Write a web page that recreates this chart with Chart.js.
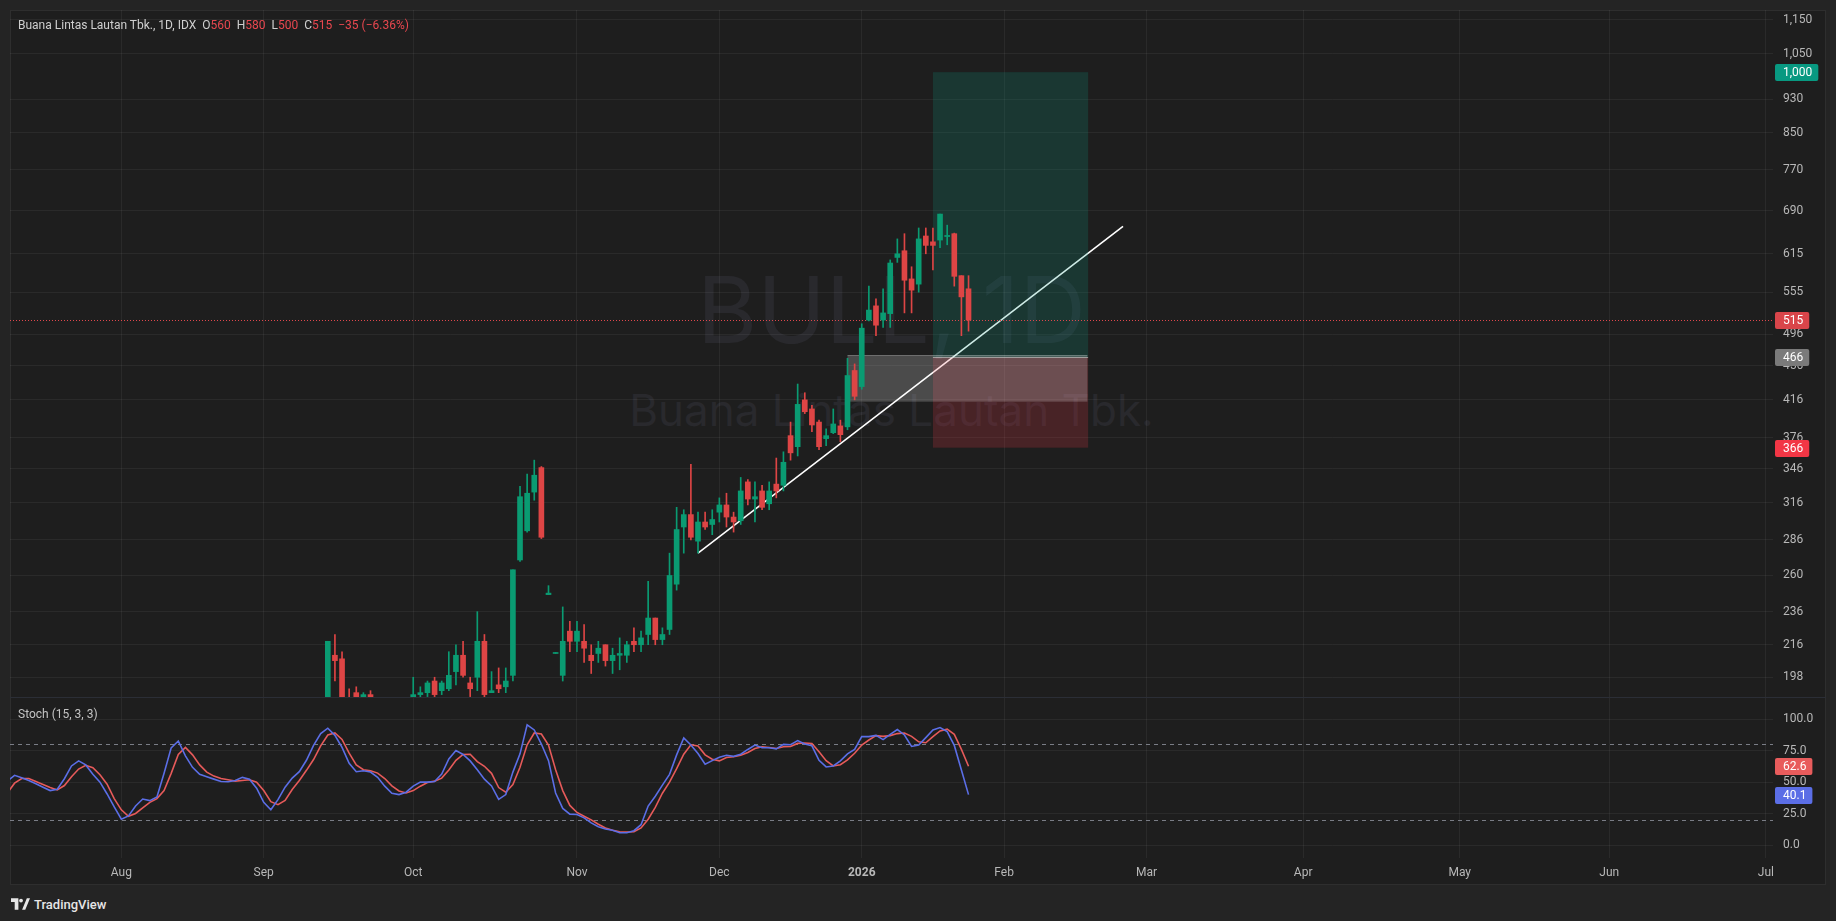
<!DOCTYPE html>
<html>
<head>
<meta charset="utf-8">
<script src="https://cdn.jsdelivr.net/npm/chart.js@4.4.1/dist/chart.umd.min.js"></script>
<style>
  html, body { margin: 0; padding: 0; width: 1836px; height: 921px; overflow: hidden; background: #242424; font-family: Roboto, sans-serif; }
  #frame { position: absolute; left: 10px; top: 10px; width: 1816px; height: 875px; background: #1e1e1e; box-sizing: border-box; border: 1px solid #2e2e2e; z-index: 0; }
  canvas { position: absolute; left: 0; z-index: 2; }
  #main { top: 0; }
  #stoch { top: 698px; }
  #sep { position: absolute; left: 10px; top: 697px; width: 1816px; height: 1px; background: #2b2e36; z-index: 3; }
  .wm { position: absolute; left: 10px; width: 1763px; text-align: center; white-space: nowrap; color: #29292d; font-family: Inter, sans-serif; z-index: 1; }
  #wm1 { top: 264px; font-size: 92px; line-height: 92px; }
  #wm2 { top: 388px; font-size: 44px; line-height: 44px; }
  #legend { position: absolute; left: 18px; top: 18px; font-size: 12px; line-height: 14px; color: #cfcfcf; white-space: nowrap; z-index: 3; }
  #legend .v { color: #e8474f; }
  #legend .g { margin-left: 6px; }
  #stochLabel { position: absolute; left: 18px; top: 707px; font-size: 12px; line-height: 14px; color: #c4c4c4; z-index: 3; }
  #brand { position: absolute; left: 11px; top: 897px; height: 14px; display: flex; align-items: center; gap: 4px; color: #e6e6e6; font-size: 13px; font-weight: 500; z-index: 3; }
</style>
</head>
<body>
<div id="frame"></div>
<div class="wm" id="wm1">BULL, 1D</div>
<div class="wm" id="wm2">Buana Lintas Lautan Tbk.</div>
<canvas id="main" width="1836" height="698"></canvas>
<canvas id="stoch" width="1836" height="187"></canvas>
<div id="sep"></div>
<div id="legend">Buana Lintas Lautan Tbk., 1D, IDX<span class="g">O</span><span class="v">560</span><span class="g">H</span><span class="v">580</span><span class="g">L</span><span class="v">500</span><span class="g">C</span><span class="v">515</span><span class="g v">−35 (−6.36%)</span></div>
<div id="stochLabel">Stoch (15, 3, 3)</div>
<div id="brand"><svg width="19" height="12" viewBox="0 0 36 22"><path d="M0 0h14v22H7V7H0z M21 22 L30 0 H36 L27 22z" fill="#e6e6e6"/><circle cx="19" cy="4.5" r="3.6" fill="#e6e6e6"/></svg>TradingView</div>
<script>
// bar index 16 = 1 Aug 2025, one step per trading day
const monthTicks = [16, 36, 57, 80, 100, 120, 140, 160, 182, 204, 225, 247];
const monthLabels = ['Aug', 'Sep', 'Oct', 'Nov', 'Dec', '2026', 'Feb', 'Mar', 'Apr', 'May', 'Jun', 'Jul'];
const priceTicks = [198, 216, 236, 260, 286, 316, 346, 376, 416, 456, 496, 555, 615, 690, 770, 850, 930, 1050, 1150];
const stochTicks = [0, 25, 50, 75, 100];

// candles start at bar 45
const FIRST_BAR = 45;
const open = [184, 210, 208, 186, 190, 186, 189, 185, 182, 181, 183, 184, 186, 189, 190, 196, 191, 192, 201, 210,
  195, 198, 218, 190, 194, 193, 199, 271, 293, 325, 347, 247, 211, 199, 224, 218, 218, 210, 211, 216,
  207, 210, 210, 218, 216, 222, 232, 219, 225, 254, 296, 306, 285, 300, 298, 308, 314, 304, 301, 334,
  319, 326, 315, 332, 331, 378, 367, 416, 406, 392, 375, 381, 388, 387, 450, 431, 515, 535, 515, 524,
  609, 620, 575, 567, 645, 635, 638, 644, 649, 580, 560];
const high = [218, 222, 212, 192, 193, 190, 191, 186, 185, 184, 186, 186, 198, 193, 196, 198, 196, 212, 216, 218,
  198, 236, 222, 201, 203, 203, 264, 330, 341, 354, 348, 253, 211, 239, 230, 230, 228, 216, 218, 216,
  214, 220, 218, 226, 224, 256, 232, 226, 276, 312, 310, 350, 308, 308, 310, 320, 324, 308, 338, 336,
  334, 331, 334, 356, 362, 392, 434, 424, 410, 394, 385, 406, 394, 465, 458, 510, 564, 545, 560, 605,
  640, 649, 594, 659, 659, 659, 684, 664, 650, 580, 580];
const low = [183, 196, 183, 182, 184, 185, 184, 181, 179, 178, 180, 181, 185, 186, 188, 188, 189, 191, 194, 198,
  188, 191, 187, 190, 190, 190, 196, 270, 292, 318, 287, 247, 211, 196, 212, 212, 206, 200, 206, 204,
  200, 202, 206, 212, 212, 216, 216, 216, 222, 250, 276, 286, 276, 294, 290, 300, 296, 292, 298, 314,
  300, 310, 310, 320, 326, 354, 358, 401, 382, 364, 368, 380, 372, 384, 416, 428, 514, 494, 505, 505,
  601, 525, 525, 555, 615, 589, 625, 630, 564, 494, 500];
const close = [218, 207, 185, 184, 186, 189, 186, 182, 181, 183, 184, 185, 189, 190, 195, 189, 195, 199, 210, 199,
  192, 218, 189, 191, 192, 196, 264, 321, 324, 340, 288, 248, 211, 218, 218, 224, 214, 207, 214, 207,
  210, 211, 216, 216, 220, 232, 219, 222, 260, 294, 306, 288, 300, 296, 302, 314, 304, 300, 326, 319,
  321, 312, 326, 326, 352, 361, 411, 403, 389, 367, 378, 390, 379, 444, 420, 504, 529, 508, 525, 600,
  615, 573, 558, 640, 629, 629, 684, 646, 579, 548, 515];

// Stoch %K and %D, bars 0..135
const stochK = [50.8, 55.4, 53.5, 51.3, 48.7, 46.0, 43.3, 44.4, 52.7, 62.9, 66.9, 63.7, 56.2, 50.0, 40.6, 30.4, 20.5, 23.2, 31.0, 36.6,
  35.3, 38.2, 57.0, 77.3, 82.7, 70.9, 61.8, 56.2, 54.3, 52.4, 50.5, 50.3, 51.3, 53.8, 52.4, 45.2, 33.9, 28.0, 36.1, 46.0,
  53.2, 58.3, 67.4, 79.2, 88.6, 92.9, 87.2, 77.6, 65.0, 58.3, 59.1, 58.0, 53.8, 46.8, 41.2, 40.1, 42.0, 46.8, 50.0, 50.0,
  50.5, 56.4, 68.5, 75.2, 72.0, 66.9, 59.9, 52.4, 47.0, 36.3, 40.1, 58.0, 72.5, 95.5, 91.5, 80.3, 67.1, 41.4, 29.1, 24.6,
  24.3, 21.6, 17.6, 14.6, 12.8, 11.7, 9.8, 9.8, 11.4, 16.2, 31.0, 38.8, 47.6, 56.2, 71.7, 85.1, 79.5, 72.8, 64.2, 67.1,
  69.8, 71.4, 70.5, 72.2, 76.0, 79.5, 77.3, 77.3, 76.5, 80.0, 79.7, 83.0, 80.3, 78.9, 67.4, 62.1, 62.9, 66.9, 72.5, 76.0,
  86.2, 86.2, 87.2, 83.8, 88.0, 91.8, 87.5, 78.4, 79.5, 85.4, 91.5, 93.4, 90.2, 79.2, 59.6, 40.1];
const stochD = [41.4, 49.2, 52.9, 52.9, 50.5, 48.1, 45.7, 43.8, 47.3, 54.3, 60.4, 63.4, 61.5, 55.9, 48.4, 36.9, 28.0, 22.9, 25.1, 29.6,
  33.9, 36.9, 43.3, 57.0, 72.0, 77.6, 71.7, 63.7, 58.0, 54.8, 52.9, 51.9, 50.8, 51.3, 51.9, 50.0, 43.3, 34.5, 32.1, 35.5,
  44.1, 51.3, 59.4, 68.0, 78.9, 87.5, 89.1, 84.0, 73.0, 63.7, 59.9, 59.1, 57.2, 52.9, 47.1, 43.0, 41.4, 43.3, 46.8, 49.7,
  50.8, 53.2, 59.6, 67.4, 72.0, 72.2, 66.3, 62.6, 57.0, 45.7, 42.0, 48.1, 61.8, 79.7, 89.1, 88.3, 79.5, 59.9, 43.3, 31.5,
  25.9, 22.9, 20.0, 16.5, 13.6, 11.7, 10.6, 10.4, 10.6, 13.6, 20.5, 29.9, 41.2, 50.0, 60.7, 72.2, 79.7, 78.7, 71.7, 68.2,
  66.9, 69.6, 70.2, 71.4, 73.6, 76.8, 78.1, 77.6, 76.8, 78.1, 78.4, 80.8, 81.1, 80.8, 74.1, 67.1, 62.9, 63.9, 67.7, 73.0,
  79.5, 83.5, 87.0, 86.4, 87.0, 88.6, 89.1, 86.4, 82.1, 81.3, 86.2, 90.7, 92.1, 88.0, 76.0, 62.6];

// drawings: long position (target, entry, stop), grey zone, trend line
const positionLevels = [1000, 466, 366];
const positionBars = [130, 151.8];
const zoneBars = [118, 151.7];
const zonePrices = [414, 469];
const trendBars = [97, 156.7];
const trendPrices = [276, 662];

const UP = '#0a9b72';
const DOWN = '#de4545';
const GRID = 'rgba(242,242,242,0.06)';
const TEXT = '#b8b8b8';
const X_MIN = 0.36, X_MAX = 248;

Chart.defaults.font.family = 'Roboto, sans-serif';
Chart.defaults.font.size = 12;

// keep the plot area exactly where the padding puts it
function noPad(s) {
  s.paddingTop = 0; s.paddingBottom = 0; s.paddingLeft = 0; s.paddingRight = 0;
}

function badge(ctx, yPix, text, bg) {
  ctx.font = '12px Roboto, sans-serif';
  const w = ctx.measureText(text).width;
  ctx.fillStyle = bg;
  ctx.beginPath();
  ctx.roundRect(1775, Math.round(yPix) - 8, w + 14, 17, 2);
  ctx.fill();
  ctx.fillStyle = '#ffffff';
  ctx.textBaseline = 'middle';
  ctx.textAlign = 'left';
  ctx.fillText(text, 1783, Math.round(yPix) + 0.5);
}

const barColors = open.map((o, k) => close[k] >= o ? UP : DOWN);

const drawings = {
  id: 'drawings',
  beforeDatasetDraw(chart, args) {
    if (args.index !== 1) return;
    const { ctx, chartArea: a, scales: { x, y } } = chart;
    ctx.save();
    ctx.beginPath();
    ctx.rect(a.left, a.top, a.right - a.left, a.bottom - a.top);
    ctx.clip();
    const p0 = x.getPixelForValue(positionBars[0]), p1 = x.getPixelForValue(positionBars[1]);
    const yT = y.getPixelForValue(positionLevels[0]);
    const yE = y.getPixelForValue(positionLevels[1]);
    const yS = y.getPixelForValue(positionLevels[2]);
    ctx.fillStyle = 'rgba(8,153,129,0.2)';
    ctx.fillRect(p0, yT, p1 - p0, yE - yT);
    ctx.fillStyle = 'rgba(242,54,69,0.2)';
    ctx.fillRect(p0, yE, p1 - p0, yS - yE);

    const z0 = x.getPixelForValue(zoneBars[0]), z1 = x.getPixelForValue(zoneBars[1]);
    const zt = y.getPixelForValue(zonePrices[1]), zb = y.getPixelForValue(zonePrices[0]);
    ctx.fillStyle = 'rgba(255,255,255,0.2)';
    ctx.fillRect(z0, zt, z1 - z0, zb - zt);
    ctx.strokeStyle = 'rgba(255,255,255,0.22)';
    ctx.lineWidth = 1;
    ctx.beginPath(); ctx.moveTo(z0, zt + 0.5); ctx.lineTo(z1, zt + 0.5); ctx.stroke();
    ctx.strokeStyle = 'rgba(220,220,220,0.55)';
    ctx.beginPath(); ctx.moveTo(p0, Math.round(yE) + 0.5); ctx.lineTo(p1, Math.round(yE) + 0.5); ctx.stroke();

    const yL = Math.round(y.getPixelForValue(close[close.length - 1])) + 0.5;
    ctx.setLineDash([1, 2]);
    ctx.strokeStyle = '#e0474c';
    ctx.beginPath(); ctx.moveTo(a.left, yL); ctx.lineTo(a.right, yL); ctx.stroke();
    ctx.restore();
  },
  afterDraw(chart) {
    const { ctx, scales: { y } } = chart;
    ctx.save();
    badge(ctx, y.getPixelForValue(positionLevels[0]), '1,000', '#089981');
    badge(ctx, y.getPixelForValue(close[close.length - 1]), String(close[close.length - 1]), '#d9454a');
    badge(ctx, y.getPixelForValue(positionLevels[1]), String(positionLevels[1]), '#7a7a7a');
    badge(ctx, y.getPixelForValue(positionLevels[2]), String(positionLevels[2]), '#f23645');
    ctx.restore();
  }
};

new Chart(document.getElementById('main'), {
  type: 'bar',
  data: {
    datasets: [
      {
        type: 'line', order: 3,
        data: trendBars.map((b, k) => ({ x: b, y: trendPrices[k] })),
        borderColor: '#ffffff', borderWidth: 1.6, pointRadius: 0, clip: 0
      },
      {
        order: 2, grouped: false, clip: 0,
        data: high.map((h, k) => ({ x: FIRST_BAR + k, y: [low[k], h] })),
        backgroundColor: barColors, barThickness: 1, minBarLength: 1, borderWidth: 0
      },
      {
        order: 1, grouped: false, clip: 0,
        data: open.map((o, k) => ({ x: FIRST_BAR + k, y: [o, close[k]] })),
        backgroundColor: barColors, barThickness: 5, minBarLength: 1, borderWidth: 0
      }
    ]
  },
  options: {
    responsive: false, animation: false, devicePixelRatio: 1,
    layout: { autoPadding: false, padding: { left: 10, top: 10, right: 10, bottom: 0 } },
    plugins: { legend: { display: false }, tooltip: { enabled: false } },
    scales: {
      x: {
        type: 'linear', min: X_MIN, max: X_MAX, offset: false,
        grid: { color: GRID, drawTicks: false, offset: false },
        border: { display: false },
        ticks: { display: false },
        afterBuildTicks: s => { s.ticks = monthTicks.map(v => ({ value: v })); },
        afterFit: s => { s.height = 0; noPad(s); }
      },
      y: {
        type: 'logarithmic', position: 'right', min: 187.3, max: 1181,
        grid: { color: GRID, drawTicks: false },
        border: { display: false },
        ticks: { color: TEXT, padding: 10, callback: v => v >= 1000 ? v.toLocaleString('en-US') : String(v) },
        afterBuildTicks: s => { s.ticks = priceTicks.map(v => ({ value: v })); },
        afterFit: s => { s.width = 53; noPad(s); }
      }
    }
  },
  plugins: [drawings]
});

const stochExtras = {
  id: 'stochExtras',
  beforeDatasetsDraw(chart) {
    const { ctx, chartArea: a, scales: { y } } = chart;
    ctx.save();
    ctx.strokeStyle = '#7a7d86';
    ctx.lineWidth = 1;
    ctx.setLineDash([4, 4]);
    [80, 20].forEach(v => {
      const yy = Math.round(y.getPixelForValue(v)) + 0.5;
      ctx.beginPath(); ctx.moveTo(a.left, yy); ctx.lineTo(a.right, yy); ctx.stroke();
    });
    ctx.restore();
  },
  afterDraw(chart) {
    const { ctx, scales: { y } } = chart;
    ctx.save();
    badge(ctx, y.getPixelForValue(stochD[stochD.length - 1]), stochD[stochD.length - 1].toFixed(1), '#e85c5c');
    badge(ctx, y.getPixelForValue(stochK[stochK.length - 1]), stochK[stochK.length - 1].toFixed(1), '#5b6ee6');
    ctx.restore();
  }
};

new Chart(document.getElementById('stoch'), {
  type: 'line',
  data: {
    datasets: [
      { data: stochK.map((v, i) => ({ x: i, y: v })), borderColor: '#5b6ee6', borderWidth: 1.6, pointRadius: 0, clip: 0 },
      { data: stochD.map((v, i) => ({ x: i, y: v })), borderColor: '#e65a5a', borderWidth: 1.6, pointRadius: 0, clip: 0 }
    ]
  },
  options: {
    responsive: false, animation: false, devicePixelRatio: 1,
    layout: { autoPadding: false, padding: { left: 10, top: 0, right: 10, bottom: 0 } },
    plugins: { legend: { display: false }, tooltip: { enabled: false } },
    scales: {
      x: {
        type: 'linear', min: X_MIN, max: X_MAX,
        grid: { color: GRID, drawTicks: false },
        border: { display: false },
        ticks: {
          color: TEXT, padding: 8, autoSkip: false, maxRotation: 0,
          callback: (v, i) => monthLabels[i],
          font: c => ({ size: 12, weight: monthLabels[c.index] === '2026' ? 'bold' : 'normal' })
        },
        afterBuildTicks: s => { s.ticks = monthTicks.map(v => ({ value: v })); },
        afterFit: s => { s.height = 27; noPad(s); }
      },
      y: {
        type: 'linear', position: 'right', min: -10.3, max: 116.9,
        grid: { color: GRID, drawTicks: false },
        border: { display: false },
        ticks: { color: TEXT, padding: 10, callback: v => v.toFixed(1) },
        afterBuildTicks: s => { s.ticks = stochTicks.map(v => ({ value: v })); },
        afterFit: s => { s.width = 53; noPad(s); }
      }
    }
  },
  plugins: [stochExtras]
});
</script>
</body>
</html>
